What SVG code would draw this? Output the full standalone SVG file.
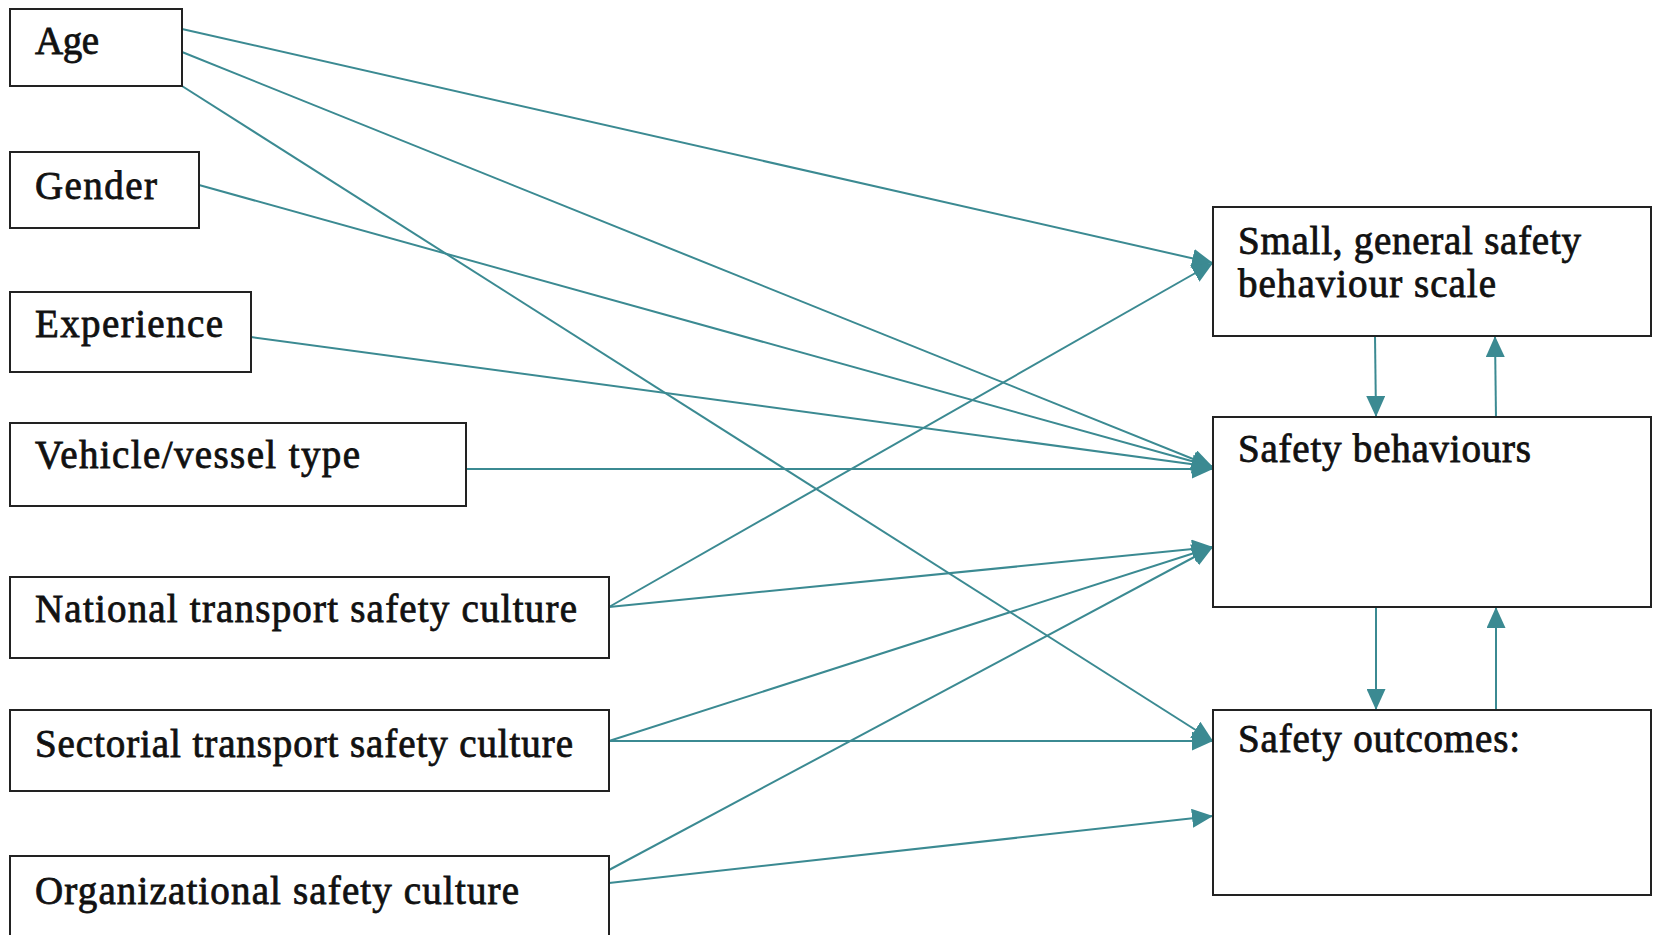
<svg xmlns="http://www.w3.org/2000/svg" width="1653" height="935" viewBox="0 0 1653 935">
<style>
.box{fill:#ffffff;stroke:#222222;stroke-width:2}
.lbl{font-family:"Liberation Serif","Times New Roman",serif;font-size:39px;fill:#111111;stroke:#111111;stroke-width:0.8}
.c{stroke:#3b8a92;stroke-width:2;fill:none;marker-end:url(#ah)}
</style>
<defs>
<marker id="ah" markerUnits="userSpaceOnUse" markerWidth="21" markerHeight="19" refX="21" refY="9.5" orient="auto">
<path d="M0,0 L21,9.5 L0,19 Z" fill="#3b8a92"/>
</marker>
</defs>
<g id="connectors">
<line class="c" x1="182" y1="29" x2="1213" y2="263"/>
<line class="c" x1="182" y1="52" x2="1213" y2="467"/>
<line class="c" x1="182" y1="86" x2="1213" y2="741"/>
<line class="c" x1="199" y1="185" x2="1213" y2="467"/>
<line class="c" x1="251" y1="337" x2="1213" y2="467"/>
<line class="c" x1="466" y1="469" x2="1213" y2="469"/>
<line class="c" x1="609" y1="607" x2="1213" y2="263"/>
<line class="c" x1="609" y1="607" x2="1213" y2="547"/>
<line class="c" x1="609" y1="741" x2="1213" y2="547"/>
<line class="c" x1="609" y1="741" x2="1213" y2="741"/>
<line class="c" x1="609" y1="870" x2="1213" y2="547"/>
<line class="c" x1="609" y1="883" x2="1213" y2="816"/>
<line class="c" x1="1375" y1="336" x2="1376" y2="417"/>
<line class="c" x1="1496" y1="419" x2="1495" y2="336"/>
<line class="c" x1="1376" y1="607" x2="1376" y2="710"/>
<line class="c" x1="1496" y1="710" x2="1496" y2="607"/>
</g>
<g id="age"><rect class="box" x="10" y="9" width="172" height="77"/><text class="lbl" x="35" y="54" textLength="64">Age</text></g>
<g id="gender"><rect class="box" x="10" y="152" width="189" height="76"/><text class="lbl" x="35" y="199" textLength="122">Gender</text></g>
<g id="experience"><rect class="box" x="10" y="292" width="241" height="80"/><text class="lbl" x="35" y="337" textLength="188">Experience</text></g>
<g id="vehicle"><rect class="box" x="10" y="423" width="456" height="83"/><text class="lbl" x="35" y="468" textLength="325">Vehicle/vessel type</text></g>
<g id="national"><rect class="box" x="10" y="577" width="599" height="81"/><text class="lbl" x="35" y="622" textLength="542">National transport safety culture</text></g>
<g id="sectorial"><rect class="box" x="10" y="710" width="599" height="81"/><text class="lbl" x="35" y="757" textLength="538">Sectorial transport safety culture</text></g>
<g id="organizational"><rect class="box" x="10" y="856" width="599" height="90"/><text class="lbl" x="35" y="904" textLength="484">Organizational safety culture</text></g>
<g id="small-scale"><rect class="box" x="1213" y="207" width="438" height="129"/><text class="lbl" x="1238" y="254" textLength="343">Small, general safety</text><text class="lbl" x="1238" y="297" textLength="258">behaviour scale</text></g>
<g id="safety-behaviours"><rect class="box" x="1213" y="417" width="438" height="190"/><text class="lbl" x="1238" y="462" textLength="293">Safety behaviours</text></g>
<g id="safety-outcomes"><rect class="box" x="1213" y="710" width="438" height="185"/><text class="lbl" x="1238" y="752" textLength="282">Safety outcomes:</text></g>
</svg>
